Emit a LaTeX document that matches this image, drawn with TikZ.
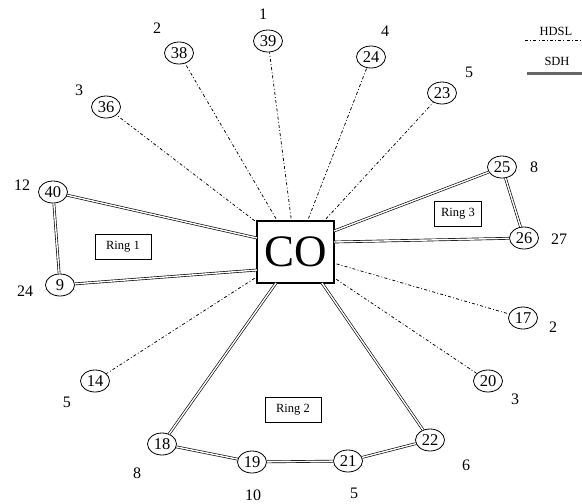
\documentclass[tikz,border=0pt]{standalone}
\usepackage{fontspec}
\setmainfont{Liberation Serif}
\usetikzlibrary{shapes.geometric}
\begin{document}
\begin{tikzpicture}[x=1pt,y=-1pt,
  site/.style={ellipse,draw,line width=0.8pt,minimum width=29pt,minimum height=22pt,inner sep=0pt,font=\fontsize{16.5}{16.5}\selectfont},
  lab/.style={font=\fontsize{16}{16}\selectfont,inner sep=0pt},
  ringbox/.style={draw,line width=0.5pt,minimum width=56pt,minimum height=25pt,font=\fontsize{12.5}{12.5}\selectfont},
  hdsl/.style={line width=0.75pt,dash pattern=on 3pt off 2.2pt on 0.9pt off 2.2pt},
  sdh/.style={double,double distance=1.4pt,line width=0.65pt}]
\useasboundingbox (0,0) rectangle (582,504);
% central office
\node[draw,line width=1.3pt,minimum width=77pt,minimum height=62pt,inner sep=0pt,font=\fontsize{45}{45}\selectfont] (co) at (295.5,252) {CO};
% sites
\node[site] (n39) at (268,41) {39};
\node[site] (n38) at (179,53) {38};
\node[site] (n24) at (371,57) {24};
\node[site] (n23) at (442,93) {23};
\node[site] (n36) at (106,107) {36};
\node[site] (n40) at (53,192) {40};
\node[site] (n9) at (60,285) {9};
\node[site] (n25) at (502,167) {25};
\node[site] (n26) at (524,238) {26};
\node[site] (n17) at (523,318) {17};
\node[site] (n20) at (488,381) {20};
\node[site] (n14) at (95,381) {14};
\node[site] (n18) at (162,444) {18};
\node[site] (n19) at (252,462) {19};
\node[site] (n21) at (348,461) {21};
\node[site] (n22) at (430,440) {22};
% counts
\node[lab] (l39) at (263,14) {1};
\node[lab] (l38) at (157,28) {2};
\node[lab] (l24) at (385,31) {4};
\node[lab] (l23) at (469,72) {5};
\node[lab] (l36) at (79,90) {3};
\node[lab] (l40) at (22,185) {12};
\node[lab] (l9) at (25,291) {24};
\node[lab] (l25) at (534,167) {8};
\node[lab] (l26) at (559,239) {27};
\node[lab] (l17) at (553,327) {2};
\node[lab] (l20) at (515,399) {3};
\node[lab] (l14) at (67,402) {5};
\node[lab] (l18) at (137,473) {8};
\node[lab] (l19) at (253,495) {10};
\node[lab] (l21) at (354,493) {5};
\node[lab] (l22) at (466,465) {6};
% rings
\node[ringbox] (r1) at (123,247) {Ring 1};
\node[ringbox] (r2) at (293,410) {Ring 2};
\node[ringbox,minimum width=47pt] (r3) at (458,214) {Ring 3};
% attachment points on CO
\coordinate (cw1) at (257,238);
\coordinate (cw2) at (257,270);
\coordinate (ce1) at (334,231);
\coordinate (ce2) at (334,242);
\coordinate (cs1) at (276,283);
\coordinate (cs2) at (322,283);
% HDSL links
\foreach \n in {n39,n38,n24,n23,n36,n17,n20,n14}
  \draw[hdsl,shorten <=2pt] (co) -- (\n);
% SDH links
\draw[sdh] (n40) -- (cw1);
\draw[sdh] (n9) -- (cw2);
\draw[sdh] (n40) -- (n9);
\draw[sdh] (n25) -- (ce1);
\draw[sdh] (n26) -- (ce2);
\draw[sdh] (n25) -- (n26);
\draw[sdh] (n18) -- (cs1);
\draw[sdh] (n22) -- (cs2);
\draw[sdh] (n18) -- (n19);
\draw[sdh] (n19) -- (n21);
\draw[sdh] (n21) -- (n22);
% legend
\node[font=\fontsize{12.5}{12.5}\selectfont,inner sep=0pt] (lh) at (556,31) {HDSL};
\node[font=\fontsize{12.5}{12.5}\selectfont,inner sep=0pt] (ls) at (557,61) {SDH};
\coordinate (lh1) at (525,40);
\coordinate (lh2) at (582,40);
\coordinate (ls1) at (527,73);
\coordinate (ls2) at (582,73);
\draw[hdsl] (lh1) -- (lh2);
\draw[line width=3pt,gray!80!black] (ls1) -- (ls2);
\end{tikzpicture}
\end{document}
